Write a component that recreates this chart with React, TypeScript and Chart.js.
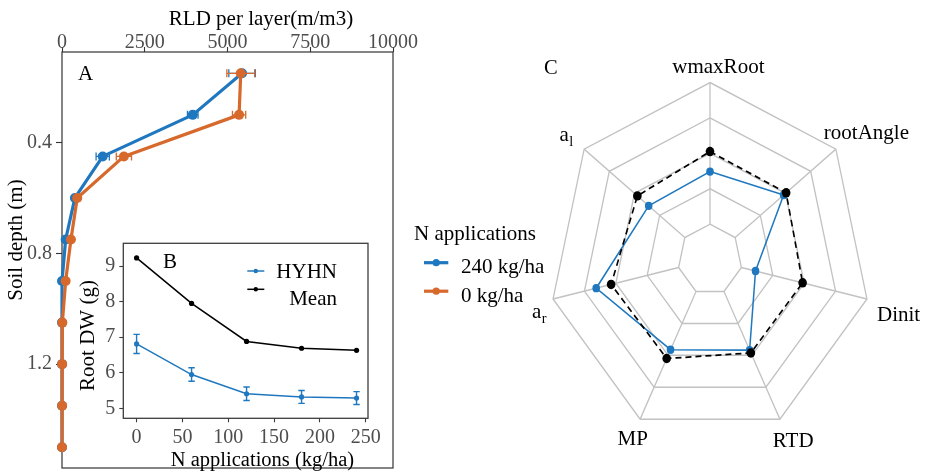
import React, { useEffect, useRef } from 'react';
import { Chart, registerables } from 'chart.js';

Chart.register(...registerables);

const PAGE_W = 927;
const PAGE_H = 473;
const SERIF = '"Liberation Serif", "Times New Roman", serif';
const INK = '#000000';
const TICK_INK = '#4d4d4d';
const FRAME = '#333333';
const BLUE = '#1f78bf';
const ORANGE = '#d6692b';
const GRID = '#c2c2c2';
const RADAR_STRETCH = 1.1;

// ---- A: root length density profile ----
const soilDepth = [0.15, 0.3, 0.45, 0.6, 0.75, 0.9, 1.05, 1.2, 1.35, 1.5];
const rldHighN = [5440, 3950, 1230, 390, 110, 0, 0, 0, 0, 0];
const rldHighNErr = [400, 160, 200, 40, 30, 20, 10, 5, 5, 5];
const rldZeroN = [5400, 5350, 1870, 460, 270, 110, 10, 5, 5, 0];
const rldZeroNErr = [420, 200, 230, 50, 40, 25, 15, 10, 5, 5];
const rldTicks = [0, 2500, 5000, 7500, 10000];
const depthTicks = [0.4, 0.8, 1.2];
const nLegendTitle = 'N applications';
const nLegendNames = ['240 kg/ha', '0 kg/ha'];

// ---- B: root dry weight vs N rate ----
const nRates = [0, 60, 120, 180, 240];
const dwMean = [9.23, 7.95, 6.88, 6.69, 6.63];
const dwHyhn = [6.81, 5.95, 5.41, 5.32, 5.29];
const dwHyhnErr = [0.27, 0.19, 0.19, 0.18, 0.18];
const nRateTicks = [0, 50, 100, 150, 200, 250];
const dwTicks = [5, 6, 7, 8, 9];

// ---- C: root trait radar ----
const traitNames = ['wmaxRoot', 'rootAngle', 'Dinit', 'RTD', 'MP', 'a_r', 'a_l'];
const traitMean = [0.61, 0.605, 0.59, 0.585, 0.62, 0.63, 0.577];
const traitHighN = [0.497, 0.585, 0.29, 0.567, 0.565, 0.725, 0.487];
const ringLevels = [0, 0.2, 0.4, 0.6, 0.8, 1];
// label offsets (px) from each outer vertex, text left-aligned
const traitLabelNudge = [
  [-37.7, -10],
  [-12, -10.6],
  [10, 22],
  [-7, 28],
  [-22.6, 26],
  [-21, 19],
  [-24.7, -8.3],
];

Chart.defaults.font.family = SERIF;

function paintText(
  ctx: CanvasRenderingContext2D,
  text: string,
  x: number,
  y: number,
  size: number,
  color = INK,
  align: CanvasTextAlign = 'left',
  angle = 0
) {
  ctx.save();
  ctx.translate(x, y);
  if (angle) ctx.rotate(angle);
  ctx.font = `${size}px ${SERIF}`;
  ctx.fillStyle = color;
  ctx.textAlign = align;
  ctx.textBaseline = 'alphabetic';
  ctx.fillText(text, 0, 0);
  ctx.restore();
}

// text such as "a_r" is drawn as a with subscript r
function paintSubscripted(ctx: CanvasRenderingContext2D, text: string, x: number, y: number, size: number) {
  const [main, sub] = text.split('_');
  ctx.save();
  ctx.font = `${size}px ${SERIF}`;
  ctx.fillStyle = INK;
  ctx.textAlign = 'left';
  ctx.textBaseline = 'alphabetic';
  ctx.fillText(main, x, y);
  if (sub) {
    const w = ctx.measureText(main).width;
    ctx.font = `${size * 0.68}px ${SERIF}`;
    ctx.fillText(sub, x + w + 0.5, y + 5);
  }
  ctx.restore();
}

const fitAxis = (size: number) => (scale: any) => {
  if (scale.isHorizontal()) scale.height = size;
  else scale.width = size;
  scale.paddingLeft = 0;
  scale.paddingRight = 0;
  scale.paddingTop = 0;
  scale.paddingBottom = 0;
};

const fixedTicks = (values: number[]) => (scale: any) => {
  scale.ticks = values.map((value) => ({ value }));
};

const errorBars = {
  id: 'errorBars',
  afterDatasetDraw(chart: any, args: any) {
    const ds = chart.data.datasets[args.index];
    const err: number[] | undefined = ds.errX || ds.errY;
    if (!err) return;
    const xs = chart.scales[args.meta.xAxisID];
    const ys = chart.scales[args.meta.yAxisID];
    const cap = ds.errCap ?? 4;
    const ctx = chart.ctx;
    ctx.save();
    ctx.strokeStyle = ds.borderColor;
    ctx.lineWidth = ds.errWidth ?? 1.3;
    ctx.beginPath();
    ds.data.forEach((p: any, i: number) => {
      if (ds.errX) {
        const y = ys.getPixelForValue(p.y);
        const x0 = xs.getPixelForValue(p.x - err[i]);
        const x1 = xs.getPixelForValue(p.x + err[i]);
        ctx.moveTo(x0, y);
        ctx.lineTo(x1, y);
        ctx.moveTo(x0, y - cap);
        ctx.lineTo(x0, y + cap);
        ctx.moveTo(x1, y - cap);
        ctx.lineTo(x1, y + cap);
      } else {
        const x = xs.getPixelForValue(p.x);
        const y0 = ys.getPixelForValue(p.y - err[i]);
        const y1 = ys.getPixelForValue(p.y + err[i]);
        ctx.moveTo(x, y0);
        ctx.lineTo(x, y1);
        ctx.moveTo(x - cap, y0);
        ctx.lineTo(x + cap, y0);
        ctx.moveTo(x - cap, y1);
        ctx.lineTo(x + cap, y1);
      }
    });
    ctx.stroke();
    ctx.restore();
  },
};

const panelFrame = {
  id: 'panelFrame',
  beforeDatasetsDraw(chart: any, _args: any, opts: any) {
    const { left, top, right, bottom } = chart.chartArea;
    const ctx = chart.ctx;
    ctx.save();
    ctx.strokeStyle = opts.color || FRAME;
    ctx.lineWidth = opts.width || 1.2;
    ctx.strokeRect(left, top, right - left, bottom - top);
    ctx.restore();
  },
};

const profileNotes = {
  id: 'profileNotes',
  afterDraw(chart: any) {
    const ctx = chart.ctx;
    paintText(ctx, 'RLD per layer(m/m3)', 261, 25, 21, INK, 'center');
    paintText(ctx, 'Soil depth (m)', 22, 240, 21, INK, 'center', -Math.PI / 2);
    paintText(ctx, 'A', 78, 80, 21);
    paintText(ctx, nLegendTitle, 414, 240, 21);
    const colors = [BLUE, ORANGE];
    nLegendNames.forEach((name, i) => {
      const ky = 262.7 + i * 28.5;
      ctx.save();
      ctx.strokeStyle = colors[i];
      ctx.fillStyle = colors[i];
      ctx.lineWidth = 3.2;
      ctx.beginPath();
      ctx.moveTo(424, ky);
      ctx.lineTo(448.3, ky);
      ctx.stroke();
      ctx.beginPath();
      ctx.arc(436.2, ky, 3.6, 0, Math.PI * 2);
      ctx.fill();
      ctx.restore();
      paintText(ctx, name, 461, 273.3 + i * 29, 21);
    });
  },
};

const insetNotes = {
  id: 'insetNotes',
  afterDraw(chart: any) {
    const ctx = chart.ctx;
    paintText(ctx, 'Root DW (g)', 94, 335.5, 21, INK, 'center', -Math.PI / 2);
    paintText(ctx, 'N applications (kg/ha)', 262.5, 465.5, 20.5, INK, 'center');
    paintText(ctx, 'B', 163, 268.3, 21);
    const entries = [
      { name: 'HYHN', color: BLUE, ky: 271, ty: 278.3 },
      { name: 'Mean', color: INK, ky: 289.3, ty: 305 },
    ];
    entries.forEach((e) => {
      ctx.save();
      ctx.strokeStyle = e.color;
      ctx.fillStyle = e.color;
      ctx.lineWidth = 1.5;
      ctx.beginPath();
      ctx.moveTo(247.3, e.ky);
      ctx.lineTo(264.3, e.ky);
      ctx.stroke();
      ctx.beginPath();
      ctx.arc(255.8, e.ky, 2.2, 0, Math.PI * 2);
      ctx.fill();
      ctx.restore();
      paintText(ctx, e.name, 337, e.ty, 21, INK, 'right');
    });
  },
};

const radarDecor = {
  id: 'radarDecor',
  beforeDraw(chart: any) {
    chart.ctx.save();
    chart.ctx.scale(1, RADAR_STRETCH);
  },
  beforeDatasetsDraw(chart: any) {
    const r = chart.scales.r;
    const ctx = chart.ctx;
    const inner = r.getDistanceFromCenterForValue(ringLevels[1]);
    const outer = r.getDistanceFromCenterForValue(ringLevels[ringLevels.length - 1]);
    ctx.save();
    ctx.strokeStyle = GRID;
    ctx.lineWidth = 1.3;
    chart.data.labels.forEach((_: string, i: number) => {
      const a = r.getPointPosition(i, inner);
      const b = r.getPointPosition(i, outer);
      ctx.beginPath();
      ctx.moveTo(a.x, a.y);
      ctx.lineTo(b.x, b.y);
      ctx.stroke();
    });
    ctx.restore();
  },
  afterDraw(chart: any) {
    const ctx = chart.ctx;
    ctx.restore();
    const r = chart.scales.r;
    chart.data.labels.forEach((name: string, i: number) => {
      const v = r.getPointPosition(i, r.drawingArea);
      const [dx, dy] = traitLabelNudge[i];
      paintSubscripted(ctx, name, v.x + dx, v.y * RADAR_STRETCH + dy, 21);
    });
    paintText(ctx, 'C', 544, 74.3, 20.5);
  },
};

const tickFont = { family: SERIF, size: 20 };

function profileConfig(): any {
  const line = {
    showLine: true,
    borderWidth: 3.2,
    pointRadius: 5,
    pointBorderWidth: 0,
    clip: false,
    borderJoinStyle: 'round',
    borderCapStyle: 'round',
    errCap: 4,
    errWidth: 1.3,
  };
  // the first dataset is painted last, so the 0 kg/ha profile sits on top
  return {
    type: 'scatter',
    data: {
      datasets: [
        {
          ...line,
          label: nLegendNames[1],
          data: soilDepth.map((d, i) => ({ x: rldZeroN[i], y: d })),
          errX: rldZeroNErr,
          borderColor: ORANGE,
          backgroundColor: ORANGE,
          pointBackgroundColor: ORANGE,
        },
        {
          ...line,
          label: nLegendNames[0],
          data: soilDepth.map((d, i) => ({ x: rldHighN[i], y: d })),
          errX: rldHighNErr,
          borderColor: BLUE,
          backgroundColor: BLUE,
          pointBackgroundColor: BLUE,
        },
      ],
    },
    options: {
      animation: false,
      responsive: false,
      events: [],
      layout: { padding: { left: 0, top: 0, right: PAGE_W - 393, bottom: PAGE_H - 470 } },
      plugins: { legend: { display: false }, tooltip: { enabled: false }, panelFrame: { color: FRAME, width: 1.2 } },
      scales: {
        x: {
          type: 'linear',
          position: 'top',
          min: 0,
          max: 10000,
          afterBuildTicks: fixedTicks(rldTicks),
          afterFit: fitAxis(52),
          border: { display: false },
          grid: { drawOnChartArea: false, drawTicks: true, tickLength: 5, tickColor: FRAME, tickWidth: 1.1 },
          ticks: { autoSkip: false, maxRotation: 0, padding: -8, color: TICK_INK, font: tickFont, callback: (v: number) => String(v) },
        },
        y: {
          type: 'linear',
          reverse: true,
          min: 0.073,
          max: 1.575,
          afterBuildTicks: fixedTicks(depthTicks),
          afterFit: fitAxis(62),
          border: { display: false },
          grid: { drawOnChartArea: false, drawTicks: true, tickLength: 6, tickColor: FRAME, tickWidth: 1.1 },
          ticks: { autoSkip: false, padding: 4, color: TICK_INK, font: tickFont, callback: (v: number) => v.toFixed(1) },
        },
      },
    },
    plugins: [panelFrame, errorBars, profileNotes],
  };
}

function insetConfig(): any {
  return {
    type: 'scatter',
    data: {
      datasets: [
        {
          label: 'HYHN',
          data: nRates.map((n, i) => ({ x: n, y: dwHyhn[i] })),
          errY: dwHyhnErr,
          errCap: 3.2,
          errWidth: 1.4,
          showLine: true,
          borderColor: BLUE,
          backgroundColor: BLUE,
          pointBackgroundColor: BLUE,
          borderWidth: 1.5,
          pointRadius: 2.6,
          pointBorderWidth: 0,
          clip: false,
        },
        {
          label: 'Mean',
          data: nRates.map((n, i) => ({ x: n, y: dwMean[i] })),
          showLine: true,
          borderColor: INK,
          backgroundColor: INK,
          pointBackgroundColor: INK,
          borderWidth: 1.5,
          pointRadius: 2.6,
          pointBorderWidth: 0,
          clip: false,
        },
      ],
    },
    options: {
      animation: false,
      responsive: false,
      events: [],
      layout: { padding: { left: 0, top: 243.3, right: PAGE_W - 368, bottom: 0 } },
      plugins: { legend: { display: false }, tooltip: { enabled: false }, panelFrame: { color: '#3c3c3c', width: 1.3 } },
      scales: {
        x: {
          type: 'linear',
          min: -14.5,
          max: 252.5,
          afterBuildTicks: fixedTicks(nRateTicks),
          afterFit: fitAxis(PAGE_H - 418.3),
          border: { display: false },
          grid: { drawOnChartArea: false, drawTicks: true, tickLength: 4, tickColor: '#3c3c3c', tickWidth: 1.1 },
          ticks: { autoSkip: false, maxRotation: 0, padding: 3, color: TICK_INK, font: tickFont, callback: (v: number) => String(v) },
        },
        y: {
          type: 'linear',
          min: 4.72,
          max: 9.64,
          afterBuildTicks: fixedTicks(dwTicks),
          afterFit: fitAxis(123.3),
          border: { display: false },
          grid: { drawOnChartArea: false, drawTicks: true, tickLength: 4, tickColor: '#3c3c3c', tickWidth: 1.1 },
          ticks: { autoSkip: false, padding: 4, color: TICK_INK, font: tickFont, callback: (v: number) => String(v) },
        },
      },
    },
    plugins: [panelFrame, errorBars, insetNotes],
  };
}

function radarConfig(): any {
  return {
    type: 'radar',
    data: {
      labels: traitNames,
      datasets: [
        {
          label: 'Mean',
          data: traitMean,
          fill: false,
          borderColor: INK,
          backgroundColor: 'rgba(0,0,0,0)',
          borderWidth: 1.6,
          borderDash: [6, 4],
          pointRadius: 4.3,
          pointBackgroundColor: INK,
          pointBorderColor: INK,
          pointBorderWidth: 0,
        },
        {
          label: nLegendNames[0],
          data: traitHighN,
          fill: false,
          borderColor: BLUE,
          backgroundColor: 'rgba(0,0,0,0)',
          borderWidth: 1.5,
          pointRadius: 3.8,
          pointBackgroundColor: BLUE,
          pointBorderColor: BLUE,
          pointBorderWidth: 0,
        },
      ],
    },
    options: {
      animation: false,
      responsive: false,
      events: [],
      layout: { padding: { left: 549, right: PAGE_W - 871, top: 75, bottom: PAGE_H - 397 } },
      plugins: { legend: { display: false }, tooltip: { enabled: false } },
      scales: {
        r: {
          min: 0,
          max: 1,
          afterBuildTicks: fixedTicks(ringLevels),
          ticks: { display: false },
          grid: { color: GRID, lineWidth: 1.3 },
          angleLines: { display: false },
          pointLabels: { display: false },
        },
      },
    },
    plugins: [radarDecor],
  };
}

const layerStyle: React.CSSProperties = {
  position: 'absolute',
  left: 0,
  top: 0,
  width: PAGE_W,
  height: PAGE_H,
};

export default function App() {
  const profileRef = useRef<HTMLCanvasElement>(null);
  const insetRef = useRef<HTMLCanvasElement>(null);
  const radarRef = useRef<HTMLCanvasElement>(null);

  useEffect(() => {
    const charts = [
      new Chart(profileRef.current as HTMLCanvasElement, profileConfig()),
      new Chart(insetRef.current as HTMLCanvasElement, insetConfig()),
      new Chart(radarRef.current as HTMLCanvasElement, radarConfig()),
    ];
    return () => charts.forEach((c) => c.destroy());
  }, []);

  return (
    <div
      style={{
        position: 'fixed',
        left: 0,
        top: 0,
        width: PAGE_W,
        height: PAGE_H,
        background: '#ffffff',
        overflow: 'hidden',
      }}
    >
      <canvas ref={radarRef} width={PAGE_W} height={PAGE_H} style={layerStyle} />
      <canvas ref={profileRef} width={PAGE_W} height={PAGE_H} style={layerStyle} />
      <canvas ref={insetRef} width={PAGE_W} height={PAGE_H} style={layerStyle} />
    </div>
  );
}
